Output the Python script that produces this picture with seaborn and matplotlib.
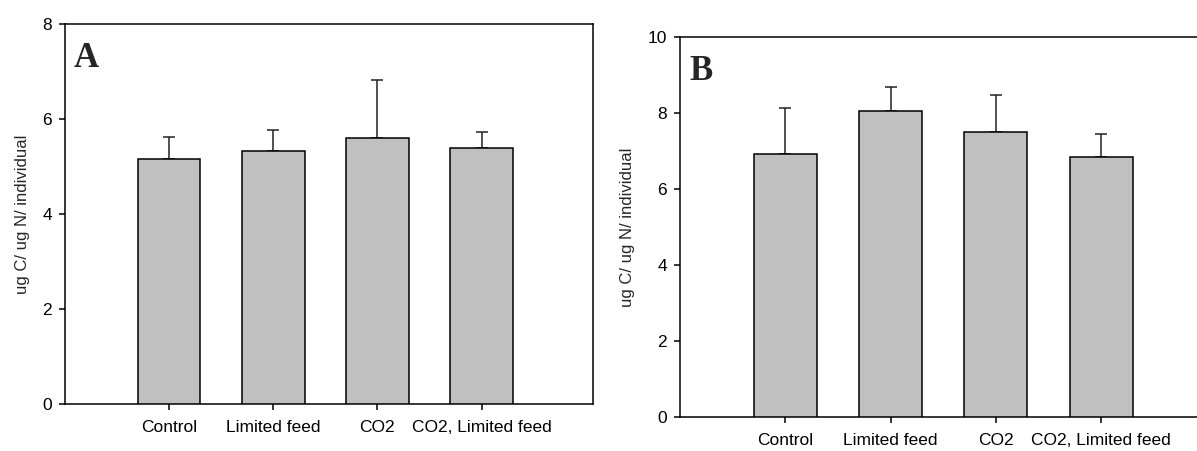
import matplotlib
matplotlib.use("Agg")
import matplotlib.pyplot as plt
import seaborn as sns
import pandas as pd

# Treatments and values (mean and upper error)
categories = ["Control", "Limited feed", "CO2", "CO2, Limited feed"]
mean_a = [5.15, 5.32, 5.61, 5.39]
err_a = [0.47, 0.44, 1.22, 0.33]
mean_b = [6.92, 8.06, 7.51, 6.85]
err_b = [1.21, 0.63, 0.97, 0.61]

sns.set_style("ticks")
plt.rcParams["font.family"] = ["Liberation Sans", "DejaVu Sans"]
plt.rcParams["axes.linewidth"] = 1.1
plt.rcParams["axes.edgecolor"] = "black"

fig = plt.figure(figsize=(11.97, 4.51), dpi=100)
ax_a = fig.add_axes([0.0543, 0.1042, 0.4411, 0.8426])
ax_b = fig.add_axes([0.5681, 0.0754, 0.4460, 0.8426])


# Draws one panel: grey bars with upward-only error bars.
def draw_panel(ax, means, errs, ymax, letter):
    df = pd.DataFrame({"group": categories, "value": means})
    sns.barplot(data=df, x="group", y="value", order=categories, color="#c0c0c0",
                saturation=1, width=0.6, edgecolor="black", linewidth=1.1,
                errorbar=None, ax=ax, zorder=3)
    ax.errorbar(range(len(categories)), means, yerr=[[0] * len(errs), errs],
                fmt="none", ecolor="#222222", elinewidth=1.1, capsize=4.6,
                capthick=1.1, zorder=2)
    ax.set_xlim(-1, 4.07)
    ax.set_ylim(0, ymax)
    ax.set_yticks(range(0, ymax + 1, 2))
    ax.set_xlabel("")
    ax.set_ylabel("ug C/ ug N/ individual", fontsize=12, labelpad=9)
    ax.tick_params(axis="both", direction="out", length=4.3, width=1.1,
                   labelsize=12.5, colors="black")
    ax.tick_params(axis="x", pad=7)
    ax.tick_params(axis="y", pad=5)
    for side in ["top", "right", "left", "bottom"]:
        ax.spines[side].set_visible(True)
    ax.text(0.017, 0.888, letter, transform=ax.transAxes, fontsize=25,
            fontweight="bold", family=["Liberation Serif", "DejaVu Serif"])


draw_panel(ax_a, mean_a, err_a, 8, "A")
draw_panel(ax_b, mean_b, err_b, 10, "B")

fig.savefig("out.png", dpi=100)
